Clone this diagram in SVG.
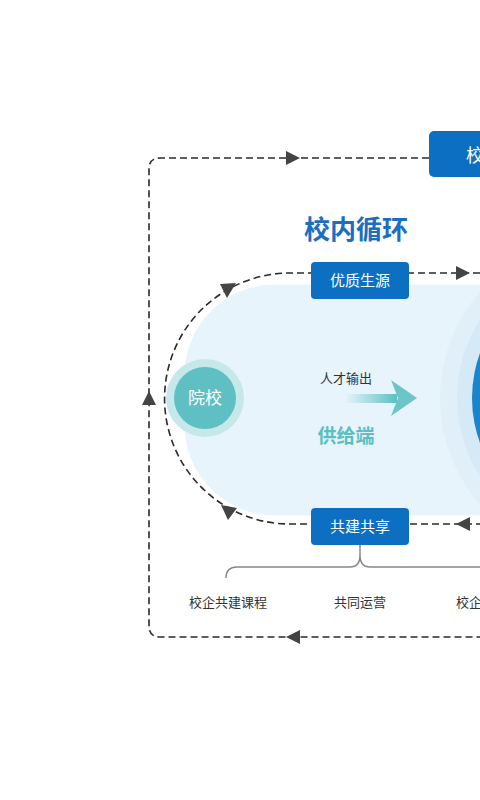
<svg xmlns="http://www.w3.org/2000/svg" width="480" height="800" viewBox="0 0 480 800">
<defs>
<style>
.t{font-family:"Liberation Sans","Noto Sans CJK SC",sans-serif;}
.dash{fill:none;stroke:#2a2a2a;stroke-width:1.6;stroke-dasharray:7 4;}
.ah{fill:#444;}
.box{fill:#0C6FC1;}
.wt{fill:#fff;font-size:15px;text-anchor:middle;}
.lbl{fill:#333;font-size:13px;text-anchor:middle;}
</style>
<linearGradient id="shaft" x1="0" y1="0" x2="1" y2="0">
<stop offset="0" stop-color="#5BC0C4" stop-opacity="0"/>
<stop offset="1" stop-color="#5BC0C4"/>
</linearGradient>
</defs>
<rect width="480" height="800" fill="#fff"/>
<g id="pill">
<rect x="183" y="283" width="420" height="234" rx="92" ry="92" fill="#E7F4FB" stroke="#fff" stroke-width="3"/>
</g>
<g id="right-circle">
<circle cx="602" cy="398" r="162" fill="#E1EFF9"/>
<circle cx="602" cy="398" r="145" fill="#D6E9F6"/>
<circle cx="602" cy="398" r="130" fill="#1A85CC"/>
</g>
<g id="connectors">
<path class="dash" d="M429 158 H160 Q149 158 149 169 V626 Q149 637 160 637 H480"/>
<path class="dash" d="M480 273 H290 A125.5 125.5 0 0 0 290 524 H480"/>
<polygon class="ah" points="286,151 300,158 286,165"/>
<polygon class="ah" points="142,405 149,391 156,405"/>
<polygon class="ah" points="300,630 286,637 300,644"/>
<polygon class="ah" points="456,266 470,273 456,280"/>
<polygon class="ah" points="470,517 456,524 470,531"/>
<polygon class="ah" points="220,284 236,283 227,298"/>
<polygon class="ah" points="221,505 237,508 228,520"/>
<path d="M226 578 Q226 567 237 567 H350 Q360 567 360 555 Q360 567 370 567 H480" fill="none" stroke="#888" stroke-width="1.5"/>
<path d="M360 545 V555" fill="none" stroke="#888" stroke-width="1.5"/>
</g>
<g id="top-box">
<rect class="box" x="429" y="131" width="80" height="46" rx="5"/>
<text class="t" x="466" y="162" fill="#fff" font-size="18">校</text>
</g>
<g id="title">
<text class="t" x="356" y="239" fill="#1B6EC2" font-size="26" font-weight="bold" text-anchor="middle">校内循环</text>
</g>
<g id="box-source">
<rect class="box" x="311" y="262" width="98" height="37" rx="4"/>
<text class="t wt" x="360" y="286">优质生源</text>
</g>
<g id="box-share">
<rect class="box" x="311" y="508" width="98" height="37" rx="4"/>
<text class="t wt" x="360" y="532">共建共享</text>
</g>
<g id="school">
<circle cx="205" cy="398" r="39" fill="#C6E8EB"/>
<circle cx="205" cy="398" r="31" fill="#5EC0C3"/>
<text class="t" x="205" y="404" fill="#fff" font-size="17" text-anchor="middle">院校</text>
</g>
<g id="supply">
<text class="t lbl" x="346" y="383">人才输出</text>
<rect x="345" y="394" width="52" height="9" fill="url(#shaft)"/>
<polygon points="391,380 417,398 391,416 398,398" fill="#6CC6C9"/>
<text class="t" x="346" y="443" fill="#5BBFC2" font-size="19" font-weight="bold" text-anchor="middle">供给端</text>
</g>
<g id="labels">
<text class="t lbl" x="228" y="607">校企共建课程</text>
<text class="t lbl" x="360" y="607">共同运营</text>
<text class="t" x="456" y="607" fill="#333" font-size="13">校企</text>
</g>
</svg>
